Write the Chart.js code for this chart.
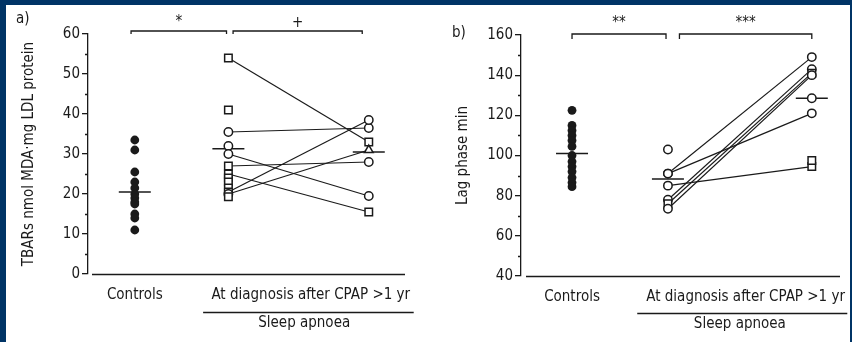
<!DOCTYPE html>
<html><head><meta charset="utf-8">
<script src="https://cdn.jsdelivr.net/npm/chart.js@4.4.1/dist/chart.umd.min.js"></script>
<style>
html,body{margin:0;padding:0;background:#003466;width:852px;height:342px;overflow:hidden;position:relative}
#panel{position:absolute;left:6px;top:5px;width:844px;height:337px;background:#fff}
#ca{position:absolute;left:0;top:0}
#cb{position:absolute;left:430px;top:0}
</style></head><body>
<div id="panel"></div>
<canvas id="ca" width="430" height="342"></canvas>
<canvas id="cb" width="440" height="342"></canvas>
<script>
// ---------- data ----------
const categories = ['Controls', 'At diagnosis', 'after CPAP >1 yr'];
const groupLabel = 'Sleep apnoea';
const tbarsTitle = 'TBARs nmol MDA\u00b7mg LDL protein';
const lagTitle = 'Lag phase min';

const tbarsControls = [33.5, 31, 25.5, 23, 21.5, 20, 19, 18, 17.5, 15, 14, 11];
const tbarsDiagnosis = [54, 41, 35.5, 32, 30, 27, 25, 24, 23, 21.5, 20.5, 20, 19.3];
const tbarsCpap = [33, null, 36.5, null, 19.5, 28, 15.5, null, null, null, 38.5, 31, null];
const tbarsMeans = [20.5, 31.3, 30.5];
const tbarsTicks = [0, 10, 20, 30, 40, 50, 60];
const tbarsSig = ['*', '+'];

const lagControls = [122.5, 115, 112.5, 110, 107.5, 104.5, 100, 97, 94.5, 92, 89, 86.5, 84.5];
const lagDiagnosis = [103, 91, 91, 85, 78, 76, 73.5, null, null];
const lagCpap = [null, 149, 121, 94.5, 143, 141, 140, 128.5, 97.5];
const lagMeans = [101, 88.3, 128.5];
const lagTicks = [40, 60, 80, 100, 120, 140, 160];
const lagSig = ['**', '***'];

// ---------- styles (marker shapes) ----------
const tbarsDiagShape = ['rect','rect','circle','circle','circle','rect','rect','rect','rect','rect','rect','circle','rect'];
const tbarsCpapShape = ['rect',null,'circle',null,'circle','circle','rect',null,null,null,'circle','triangle',null];
const lagDiagShape = ['circle','circle','circle','circle','circle','rect','circle',null,null];
const lagCpapShape = [null,'circle','circle','rect','circle','rect','circle','circle','rect'];

const catX = [1, 2, 3.5];
const FONT = '"Liberation Sans Narrow", "DejaVu Sans Condensed", "Liberation Sans", sans-serif';
const FS = 15;
const INK = '#1a1a1a';

function buildDatasets(controls, diag, cpap, means, diagShape, cpapShape) {
  const ds = [];
  diag.forEach((b, i) => {
    const a = cpap[i];
    if (b != null && a != null) {
      ds.push({type: 'line', data: [{x: catX[1], y: b}, {x: catX[2], y: a}],
        borderColor: INK, borderWidth: 1.2, pointRadius: 0, showLine: true, order: 3});
    }
  });
  ds.push({type: 'scatter', data: means.map((m, i) => ({x: catX[i], y: m})),
    pointStyle: 'line', pointRadius: 16, borderColor: INK, borderWidth: 1.5, order: 2});
  ds.push({type: 'scatter', data: controls.map(v => ({x: catX[0], y: v})),
    pointStyle: 'circle', pointRadius: 4.4, backgroundColor: INK, borderColor: INK, borderWidth: 0, order: 1});
  const pts = [], shapes = [];
  diag.forEach((v, i) => { if (v != null) { pts.push({x: catX[1], y: v}); shapes.push(diagShape[i]); } });
  cpap.forEach((v, i) => { if (v != null) { pts.push({x: catX[2], y: v}); shapes.push(cpapShape[i]); } });
  ds.push({type: 'scatter', data: pts, pointStyle: shapes,
    pointRadius: shapes.map(s => s === 'rect' ? 5.3 : (s === 'triangle' ? 5 : 4.2)),
    backgroundColor: '#fff', borderColor: INK, borderWidth: 1.5, order: 0});
  return ds;
}

const decor = {
  id: 'decor',
  afterDraw(chart, args, o) {
    const {ctx, chartArea: ca, scales: {x, y}} = chart;
    ctx.save();
    ctx.strokeStyle = INK; ctx.fillStyle = INK; ctx.lineWidth = 1.3;
    ctx.beginPath();
    ctx.moveTo(ca.left + o.axisGap, ca.bottom + 0.5); ctx.lineTo(ca.right, ca.bottom + 0.5);
    o.minor.forEach(v => {
      const py = Math.round(y.getPixelForValue(v)) + 0.5;
      ctx.moveTo(ca.left - 3, py); ctx.lineTo(ca.left, py);
    });
    ctx.stroke();
    ctx.font = '15px ' + FONT; ctx.textAlign = 'center'; ctx.textBaseline = 'middle';
    o.brackets.forEach(b => {
      const x1 = x.getPixelForValue(b.from), x2 = x.getPixelForValue(b.to);
      const yy = ca.top + b.dy;
      ctx.beginPath();
      ctx.moveTo(x1, yy + b.tick); ctx.lineTo(x1, yy); ctx.lineTo(x2, yy); ctx.lineTo(x2, yy + b.tick);
      ctx.stroke();
      ctx.fillText(b.text, (x1 + x2) / 2, yy - b.textGap);
    });
    const gx1 = x.getPixelForValue(o.group.from), gx2 = x.getPixelForValue(o.group.to);
    ctx.beginPath(); ctx.moveTo(gx1, o.group.lineY + 0.5); ctx.lineTo(gx2, o.group.lineY + 0.5); ctx.stroke();
    ctx.font = FS + 'px ' + FONT; ctx.textBaseline = 'top';
    ctx.fillText(groupLabel, x.getPixelForValue(o.group.textX), o.group.lineY + 4);
    ctx.textAlign = 'left';
    ctx.font = '15px ' + FONT; ctx.textBaseline = 'middle';
    ctx.fillText(o.letter.text, o.letter.x, o.letter.y);
    ctx.restore();
  }
};

function makeChart(id, cfg) {
  return new Chart(document.getElementById(id), {
    data: {datasets: buildDatasets(cfg.controls, cfg.diag, cfg.cpap, cfg.means, cfg.diagShape, cfg.cpapShape)},
    plugins: [decor],
    options: {
      responsive: false, animation: false, devicePixelRatio: 1,
      layout: {padding: cfg.padding},
      plugins: {legend: {display: false}, tooltip: {enabled: false}, decor: cfg.decor},
      scales: {
        x: {
          type: 'linear', min: cfg.xmin, max: cfg.xmax,
          grid: {display: false, drawTicks: false}, border: {display: false},
          afterBuildTicks: s => { s.ticks = [{value: catX[0]}, {value: cfg.longLabelX}]; },
          afterFit: s => { s.height = cfg.xHeight; },
          ticks: {
            autoSkip: false, maxRotation: 0, padding: 12, color: INK,
            font: {family: FONT, size: FS},
            callback: v => v === catX[0] ? categories[0] : categories[1] + ' ' + categories[2]
          }
        },
        y: {
          type: 'linear', min: cfg.ticks[0], max: cfg.ticks[cfg.ticks.length - 1],
          afterFit: s => { s.width = cfg.yWidth; },
          afterBuildTicks: s => { s.ticks = cfg.ticks.map(v => ({value: v})); },
          grid: {display: true, drawOnChartArea: false, tickLength: 6, color: INK, lineWidth: 1.3},
          border: {display: true, color: INK, width: 1.3},
          ticks: {padding: 2, color: INK, font: {family: FONT, size: FS}},
          title: {display: true, text: cfg.title, color: INK, font: {family: FONT, size: FS},
                  padding: {top: cfg.titlePad, bottom: 0}}
        }
      }
    }
  });
}

makeChart('ca', {
  controls: tbarsControls, diag: tbarsDiagnosis, cpap: tbarsCpap, means: tbarsMeans,
  diagShape: tbarsDiagShape, cpapShape: tbarsCpapShape, ticks: tbarsTicks, title: tbarsTitle,
  padding: {left: 0, top: 34, right: 25, bottom: 0},
  xmin: 0.5, xmax: 3.887, xHeight: 68, yWidth: 88, titlePad: 20, longLabelX: 2.88,
  decor: {
    axisGap: 4, minor: [5, 15, 25, 35, 45, 55],
    brackets: [{from: 0.96, to: 1.98, dy: -3, tick: 3, text: tbarsSig[0], textGap: 9},
               {from: 2.05, to: 3.43, dy: -3, tick: 3, text: tbarsSig[1], textGap: 8}],
    group: {from: 1.73, to: 3.98, lineY: 312, textX: 2.81},
    letter: {text: 'a)', x: 16, y: 19}
  }
});

makeChart('cb', {
  controls: lagControls, diag: lagDiagnosis, cpap: lagCpap, means: lagMeans,
  diagShape: lagDiagShape, cpapShape: lagCpapShape, ticks: lagTicks, title: lagTitle,
  padding: {left: 0, top: 35, right: 30, bottom: 0},
  xmin: 0.468, xmax: 3.794, xHeight: 66, yWidth: 91, titlePad: 24, longLabelX: 2.81,
  decor: {
    axisGap: 5, minor: [50, 70, 90, 110, 130, 150],
    brackets: [{from: 1, to: 1.98, dy: -1, tick: 5, text: lagSig[0], textGap: 11},
               {from: 2.12, to: 3.5, dy: -1, tick: 5, text: lagSig[1], textGap: 11}],
    group: {from: 1.68, to: 3.87, lineY: 313, textX: 2.75},
    letter: {text: 'b)', x: 22, y: 33}
  }
});
</script>
</body></html>
